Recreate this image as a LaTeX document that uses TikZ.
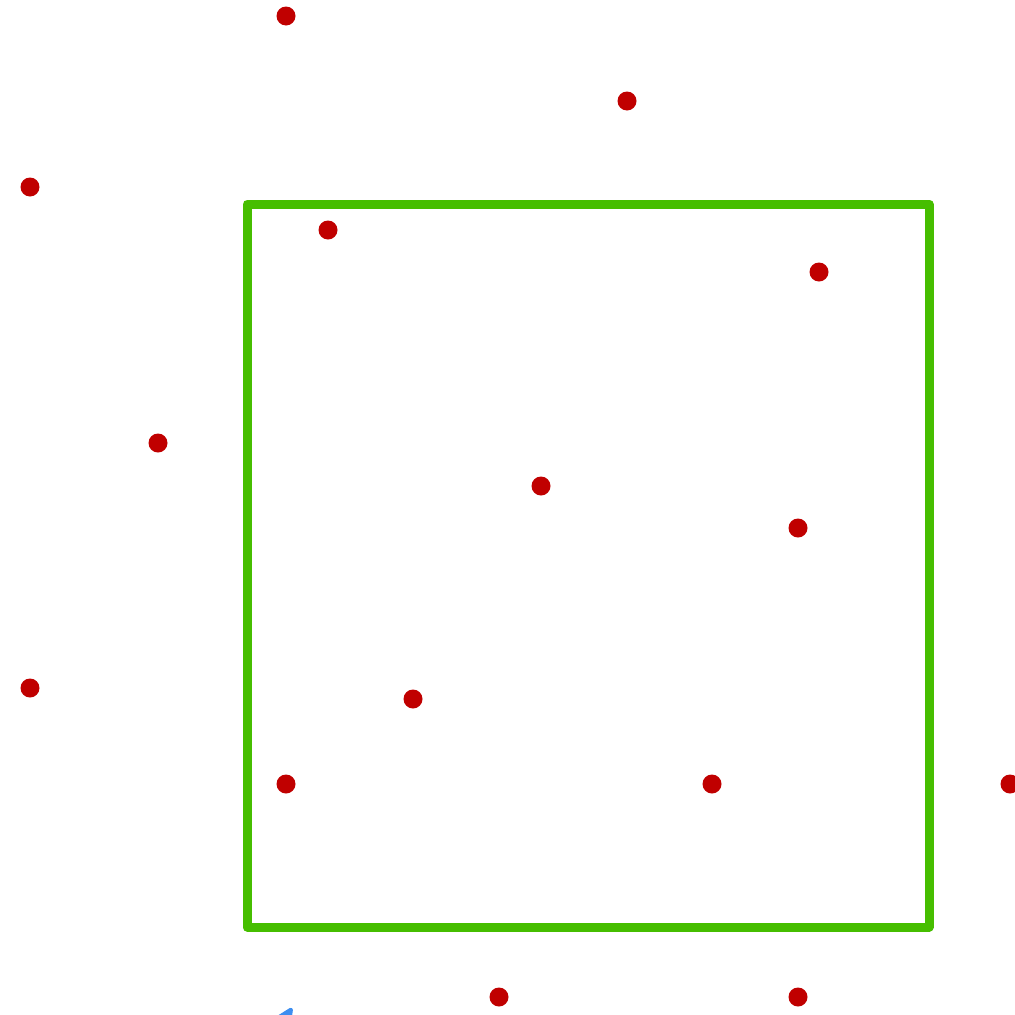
\documentclass[tikz,border=0pt]{standalone}
\usetikzlibrary{arrows.meta}
\definecolor{dotred}{RGB}{192,0,0}
\definecolor{boxgreen}{RGB}{70,190,0}
\definecolor{arrowblue}{RGB}{61,142,240}

\begin{document}
\begin{tikzpicture}[
                x=1pt, y=-1pt,
                site/.style={circle, fill=dotred, inner sep=0pt, minimum size=19pt},
                frame/.style={draw=boxgreen, line width=9pt, line join=round},
                pointer/.style={draw=arrowblue, line width=5pt, -{Stealth[length=24pt, width=22pt, round]}}
            ]
                \clip (0,0) rectangle (1015,1015);
                \useasboundingbox (0,0) rectangle (1015,1015);

                % Window
                \draw[frame] (247,204) rectangle (929,927);

                % Sites
                \foreach \name/\px/\py in {s1/286/16, s2/627/101, s3/30/187, s4/328/230,
                    s5/819/272, s6/158/443, s7/541/486, s8/798/528, s9/30/688,
                    s10/413/699, s11/286/784, s12/712/784, s13/1010/784,
                    s14/499/997, s15/798/997}
                    \node[site] (\name) at (\px,\py) {};

                % Pointer
                \coordinate (tail) at (255,1065);
                \coordinate (head) at (292,1008);
                \path[pointer] (tail) -- (head);
            \end{tikzpicture}
\end{document}
